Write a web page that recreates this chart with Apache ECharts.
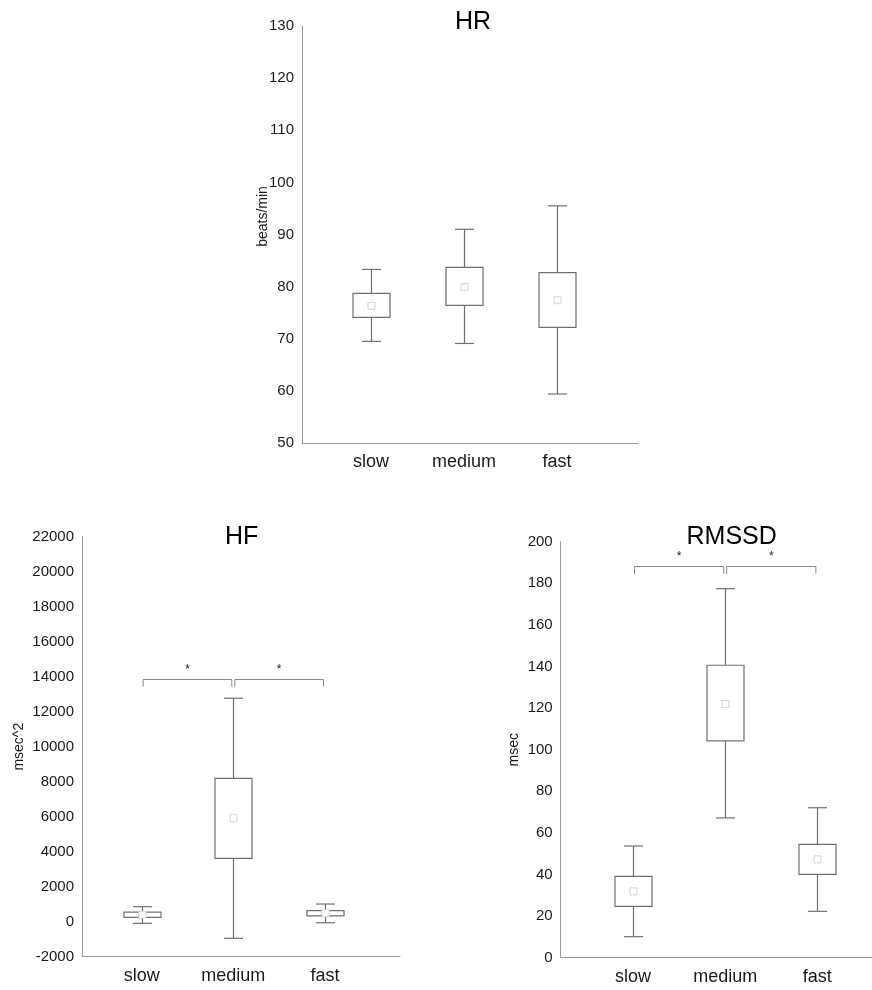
<!DOCTYPE html>
<html>
<head>
<meta charset="utf-8">
<script src="https://cdn.jsdelivr.net/npm/echarts@6/dist/echarts.min.js"></script>
<style>
html,body{margin:0;padding:0;background:#fff;}
#c{width:872px;height:990px;}
</style>
</head>
<body>
<div id="c"></div>
<script>
// ---- data ----
const categories = ['slow', 'medium', 'fast'];

// HR (beats/min)
const hrMin  = [69.5, 69.1, 59.4];
const hrQ1   = [74.1, 76.4, 72.2];
const hrMean = [76.3, 79.9, 77.4];
const hrQ3   = [78.7, 83.7, 82.7];
const hrMax  = [83.3, 91.0, 95.5];

// HF (msec^2)
const hfMin  = [-90, -950, -60];
const hfQ1   = [250, 3620, 330];
const hfMean = [400, 5910, 480];
const hfQ3   = [550, 8190, 630];
const hfMax  = [860, 12770, 1010];

// RMSSD (msec)
const rmMin  = [10.1, 67.2, 22.3];
const rmQ1   = [24.7, 104.2, 40.1];
const rmMean = [31.9, 122.0, 47.3];
const rmQ3   = [39.1, 140.6, 54.5];
const rmMax  = [53.7, 177.4, 72.1];

// significance brackets: [fromCategory, toCategory]
const sigPairs = [[1, 2], [2, 3]];
const hfBracketTop = 13890, hfBracketDrop = 13430;
const rmBracketTop = 188.2, rmBracketDrop = 184.5;

// ---- build ----
function boxData(mn, q1, me, q3, mx) {
  return categories.map((c, i) => [i + 1, mn[i], q1[i], me[i], q3[i], mx[i]]);
}
const BOX = '#6f6f6f', AXIS = '#9a9a9a', MARK = '#d4d4d4';
const FONT = '"Liberation Sans", Arial, sans-serif';

function renderBox(params, api) {
  const x = api.value(0);
  const pMin = api.coord([x, api.value(1)]);
  const pQ1 = api.coord([x, api.value(2)]);
  const pMe = api.coord([x, api.value(3)]);
  const pQ3 = api.coord([x, api.value(4)]);
  const pMax = api.coord([x, api.value(5)]);
  const cx = Math.round(pMin[0]) + 0.5;
  const bw = 37, cw = 19, mk = 7;
  const ls = { stroke: BOX, lineWidth: 1.2, fill: null };
  return {
    type: 'group',
    children: [
      { type: 'line', shape: { x1: cx, y1: pMax[1], x2: cx, y2: pQ3[1] }, style: ls },
      { type: 'line', shape: { x1: cx, y1: pQ1[1], x2: cx, y2: pMin[1] }, style: ls },
      { type: 'line', shape: { x1: cx - cw / 2, y1: pMax[1], x2: cx + cw / 2, y2: pMax[1] }, style: ls },
      { type: 'line', shape: { x1: cx - cw / 2, y1: pMin[1], x2: cx + cw / 2, y2: pMin[1] }, style: ls },
      { type: 'rect', shape: { x: cx - bw / 2, y: pQ3[1], width: bw, height: pQ1[1] - pQ3[1] }, style: { stroke: BOX, lineWidth: 1.2, fill: '#fff' } },
      { type: 'rect', shape: { x: cx - mk / 2, y: pMe[1] - mk / 2, width: mk, height: mk }, style: { stroke: MARK, lineWidth: 1, fill: '#fff' } }
    ]
  };
}

function renderBracket(params, api) {
  const a = api.value(0), b = api.value(1), top = api.value(2), drop = api.value(3);
  const p1 = api.coord([a, top]), p2 = api.coord([b, top]);
  const d1 = api.coord([a, drop]);
  const x1 = p1[0] + 1.5, x2 = p2[0] - 1.5;
  const y = Math.round(p1[1]) + 0.5, yd = d1[1];
  const ls = { stroke: '#8a8a8a', lineWidth: 1, fill: null };
  return {
    type: 'group',
    children: [
      { type: 'polyline', shape: { points: [[x1, yd], [x1, y], [x2, y], [x2, yd]] }, style: ls },
      { type: 'text', style: { text: '*', x: (x1 + x2) / 2, y: y - 4, textAlign: 'center', textVerticalAlign: 'bottom', fill: '#222', font: '12px ' + FONT } }
    ]
  };
}

function xAxisFor(gi, min, max) {
  return {
    type: 'value', gridIndex: gi, min: min, max: max,
    axisLine: { show: true, onZero: false, lineStyle: { color: AXIS, width: 1 } },
    axisTick: { show: false },
    splitLine: { show: false },
    axisLabel: {
      customValues: [1, 2, 3],
      formatter: v => categories[Math.round(v) - 1] || '',
      color: '#1a1a1a', fontSize: 18, fontFamily: FONT, margin: 10
    }
  };
}
function yAxisFor(gi, min, max, interval, name, gap, pad, noMove) {
  const ax = {
    type: 'value', gridIndex: gi, min: min, max: max, interval: interval,
    name: name, nameLocation: 'middle', nameRotate: 90, nameGap: gap,
    nameTextStyle: { color: '#1a1a1a', fontSize: 14, fontFamily: FONT, padding: pad || 0 },
    axisLine: { show: true, onZero: false, lineStyle: { color: AXIS, width: 1 } },
    axisTick: { show: false },
    splitLine: { show: false },
    axisLabel: { color: '#1a1a1a', fontSize: 15, fontFamily: FONT, margin: 8, formatter: v => String(v) }
  };
  if (noMove) ax.nameMoveOverlap = false;
  return ax;
}

const option = {
  backgroundColor: '#fff',
  animation: false,
  grid: [
    { left: 302, top: 26, width: 336, height: 417 },
    { left: 82, top: 536.7, width: 318, height: 420 },
    { left: 560.7, top: 541.7, width: 311.3, height: 416 }
  ],
  xAxis: [
    xAxisFor(0, 0.258, 3.871),
    xAxisFor(1, 0.349, 3.819),
    xAxisFor(2, 0.215, 3.593)
  ],
  yAxis: [
    yAxisFor(0, 50, 130, 10, 'beats/min', 32, [0, 0, 0, 36], true),
    yAxisFor(1, -2000, 22000, 2000, 'msec^2', 56),
    yAxisFor(2, 0, 200, 20, 'msec', 40)
  ],
  graphic: [
    { type: 'text', style: { text: 'HR', x: 473, y: 22, textAlign: 'center', textVerticalAlign: 'middle', fill: '#000', font: '25px ' + FONT } },
    { type: 'text', style: { text: 'HF', x: 241.7, y: 537.5, textAlign: 'center', textVerticalAlign: 'middle', fill: '#000', font: '25px ' + FONT } },
    { type: 'text', style: { text: 'RMSSD', x: 731.7, y: 536.7, textAlign: 'center', textVerticalAlign: 'middle', fill: '#000', font: '25px ' + FONT } }
  ],
  series: [
    { type: 'custom', xAxisIndex: 0, yAxisIndex: 0, renderItem: renderBox, data: boxData(hrMin, hrQ1, hrMean, hrQ3, hrMax), encode: { x: 0, y: [1, 2, 3, 4, 5] } },
    { type: 'custom', xAxisIndex: 1, yAxisIndex: 1, renderItem: renderBox, data: boxData(hfMin, hfQ1, hfMean, hfQ3, hfMax), encode: { x: 0, y: [1, 2, 3, 4, 5] } },
    { type: 'custom', xAxisIndex: 2, yAxisIndex: 2, renderItem: renderBox, data: boxData(rmMin, rmQ1, rmMean, rmQ3, rmMax), encode: { x: 0, y: [1, 2, 3, 4, 5] } },
    { type: 'custom', xAxisIndex: 1, yAxisIndex: 1, renderItem: renderBracket, data: sigPairs.map(p => [p[0], p[1], hfBracketTop, hfBracketDrop]), encode: { x: [0, 1], y: [2, 3] } },
    { type: 'custom', xAxisIndex: 2, yAxisIndex: 2, renderItem: renderBracket, data: sigPairs.map(p => [p[0], p[1], rmBracketTop, rmBracketDrop]), encode: { x: [0, 1], y: [2, 3] } }
  ]
};

const chart = echarts.init(document.getElementById('c'), null, { renderer: 'canvas' });
chart.setOption(option);
</script>
</body>
</html>
